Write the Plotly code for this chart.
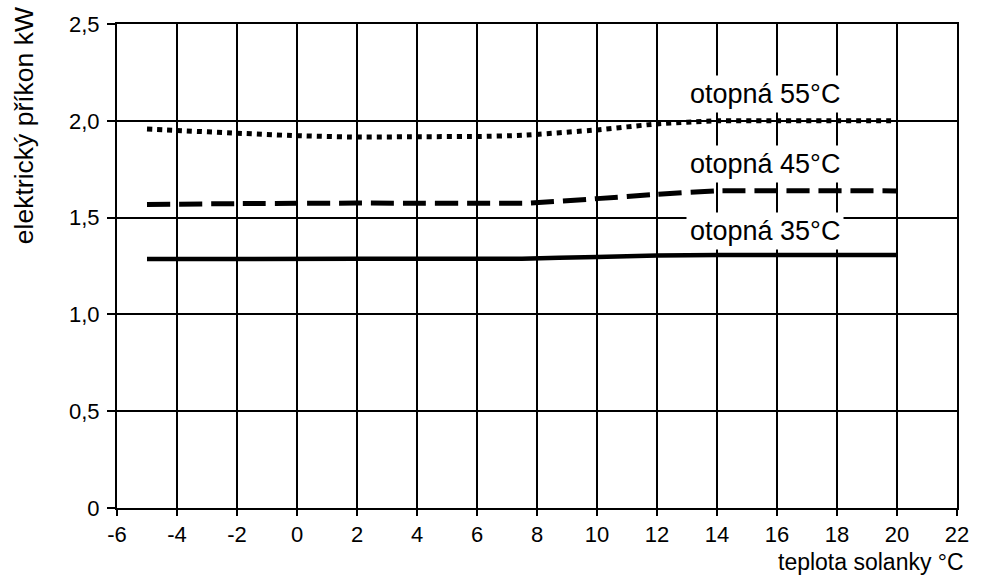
import plotly.graph_objects as go

# --- data ---
x_tick_vals = [-6, -4, -2, 0, 2, 4, 6, 8, 10, 12, 14, 16, 18, 20, 22]
x_tick_text = ["-6", "-4", "-2", "0", "2", "4", "6", "8", "10", "12", "14", "16", "18", "20", "22"]
y_tick_vals = [0, 0.5, 1.0, 1.5, 2.0, 2.5]
y_tick_text = ["0", "0,5", "1,0", "1,5", "2,0", "2,5"]

x55 = [-5, -4, -2, 0, 2, 4, 6, 7.5, 10, 12, 14, 16, 18, 20]
y55 = [1.957, 1.950, 1.936, 1.923, 1.916, 1.918, 1.919, 1.925, 1.953, 1.984, 2.0, 2.0, 2.0, 2.0]

x45 = [-5, -2, 2, 7.7, 10, 12, 14, 20]
y45 = [1.568, 1.572, 1.575, 1.575, 1.598, 1.620, 1.638, 1.638]

x35 = [-5, 2, 7.5, 10, 12, 14, 20]
y35 = [1.286, 1.287, 1.288, 1.297, 1.304, 1.307, 1.307]

label_texts = ["otopná 55°C", "otopná 45°C", "otopná 35°C"]
label_x = [15.6, 15.6, 15.6]
label_y = [2.139, 1.778, 1.432]

x_title = "teplota solanky °C"
y_title = "elektrický příkon kW"

FONT = "Liberation Sans, Arial, sans-serif"

fig = go.Figure()
fig.add_trace(go.Scatter(x=x55, y=y55, mode="lines", showlegend=False,
                         line=dict(color="black", width=5, dash="5px,5px", shape="spline", smoothing=0.5)))
fig.add_trace(go.Scatter(x=x45, y=y45, mode="lines", showlegend=False,
                         line=dict(color="black", width=5, dash="23px,9px", shape="spline", smoothing=0.4)))
fig.add_trace(go.Scatter(x=x35, y=y35, mode="lines", showlegend=False,
                         line=dict(color="black", width=4.5, shape="spline", smoothing=0.4)))

for t, lx, ly in zip(label_texts, label_x, label_y):
    fig.add_annotation(x=lx, y=ly, xref="x", yref="y", text=t, showarrow=False,
                       font=dict(family=FONT, size=27, color="black"),
                       bgcolor="white", borderpad=3, xanchor="center", yanchor="middle")

fig.add_annotation(x=(966 - 117) / 840, y=(508 - 562) / 488, xref="paper", yref="paper",
                   text=x_title, showarrow=False, xanchor="right", yanchor="middle",
                   font=dict(family=FONT, size=23, color="black"))
fig.add_annotation(x=(24 - 117) / 840, y=(508 - 123) / 488, xref="paper", yref="paper",
                   text=y_title, showarrow=False, textangle=-90, xanchor="center", yanchor="middle",
                   font=dict(family=FONT, size=26.5, color="black"))

fig.update_xaxes(range=[-6, 22], tickvals=x_tick_vals, ticktext=x_tick_text,
                 showgrid=True, gridcolor="black", gridwidth=2,
                 showline=True, linecolor="black", linewidth=2, mirror=True,
                 ticks="outside", ticklen=6, tickwidth=2, tickcolor="black",
                 zeroline=False, tickfont=dict(family=FONT, size=22, color="black"))
fig.update_yaxes(range=[0, 2.5], tickvals=y_tick_vals, ticktext=y_tick_text,
                 showgrid=True, gridcolor="black", gridwidth=2,
                 showline=True, linecolor="black", linewidth=2, mirror=True,
                 ticks="outside", ticklen=8, tickwidth=2, tickcolor="black",
                 zeroline=False, tickfont=dict(family=FONT, size=22, color="black"),
                 ticklabelstandoff=3)

fig.update_layout(width=987, height=584, margin=dict(l=117, r=30, t=20, b=76),
                  paper_bgcolor="white", plot_bgcolor="white", showlegend=False)

fig.write_html("out.html", config={"displayModeBar": False},
               post_script="document.body.style.margin='0';")
